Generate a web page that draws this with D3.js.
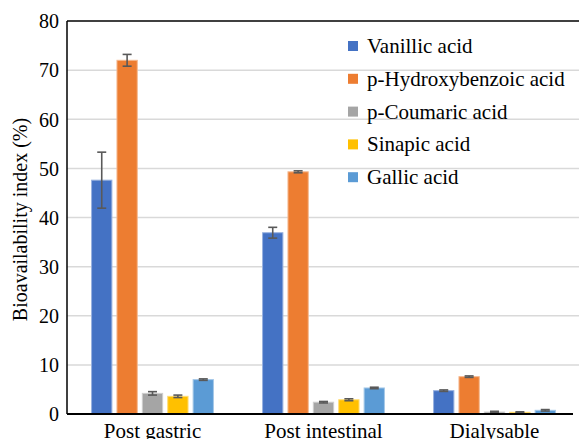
<!DOCTYPE html>
<html>
<head>
<meta charset="utf-8">
<script src="https://cdn.jsdelivr.net/npm/d3@7"></script>
<style>
  html, body { margin: 0; padding: 0; background: #fff; }
  svg { display: block; }
  svg text { font-family: "Liberation Serif", "Times New Roman", "DejaVu Serif", serif; fill: #000; }
</style>
</head>
<body>
<svg id="chart" width="579" height="439"></svg>
<script>
// Digestion stages (x groups)
const stages = ["Post gastric", "Post intestinal", "Dialysable"];
// Phenolic acids (series)
const compounds = ["Vanillic acid", "p-Hydroxybenzoic acid", "p-Coumaric acid", "Sinapic acid", "Gallic acid"];
const colors = ["#4472C4", "#ED7D31", "#A5A5A5", "#FFC000", "#5B9BD5"];
// Bioavailability index (%) per compound, one value per stage
const vanillic      = [47.6, 36.9, 4.75];
const hydroxybenz   = [72.0, 49.3, 7.6];
const coumaric      = [4.2, 2.4, 0.4];
const sinapic       = [3.6, 2.9, 0.35];
const gallic        = [7.0, 5.3, 0.75];
// Standard deviations
const vanillicSd    = [5.7, 1.1, 0.15];
const hydroxybenzSd = [1.2, 0.2, 0.15];
const coumaricSd    = [0.35, 0.15, 0.15];
const sinapicSd     = [0.25, 0.2, 0.1];
const gallicSd      = [0.15, 0.15, 0.15];
const yTicks = [0, 10, 20, 30, 40, 50, 60, 70, 80];

const values = [vanillic, hydroxybenz, coumaric, sinapic, gallic];
const sds = [vanillicSd, hydroxybenzSd, coumaricSd, sinapicSd, gallicSd];

const rows = [];
compounds.forEach((c, i) => {
  stages.forEach((s, j) => {
    rows.push({ compound: c, stage: s, value: values[i][j], sd: sds[i][j], color: colors[i] });
  });
});

const serif = '"Liberation Serif", "Times New Roman", "DejaVu Serif", serif';
const svg = d3.select("#chart");
const mLeft = 67, mRight = 580, mTop = 21, mBottom = 414;

const x0 = d3.scaleBand().domain(stages).range([mLeft, mRight]).paddingInner(0).paddingOuter(0);
const x1 = d3.scaleBand().domain(compounds).range([x0.bandwidth() / 2 - 66, x0.bandwidth() / 2 + 66]).padding(0.2);
const y = d3.scaleLinear().domain([0, 80]).range([mBottom, mTop]);

// Horizontal gridlines
svg.append("g")
  .selectAll("line")
  .data(yTicks.filter(t => t > 0 && t < 80))
  .join("line")
  .attr("x1", mLeft).attr("x2", 579)
  .attr("y1", d => y(d)).attr("y2", d => y(d))
  .attr("stroke", "#d9d9d9").attr("stroke-width", 1.5);

// Bars
svg.append("g")
  .selectAll("rect")
  .data(rows)
  .join("rect")
  .attr("x", d => x0(d.stage) + x1(d.compound))
  .attr("y", d => y(d.value))
  .attr("width", x1.bandwidth())
  .attr("height", d => y(0) - y(d.value))
  .attr("fill", d => d.color)
  .attr("stroke", d => d3.interpolateRgb(d.color, "#ffffff")(0.45))
  .attr("stroke-width", 1);

// Error bars
const eb = svg.append("g").attr("stroke", "#595959").attr("stroke-width", 1.6);
rows.forEach(d => {
  const cx = x0(d.stage) + x1(d.compound) + x1.bandwidth() / 2;
  const y1 = y(d.value + d.sd), y2 = y(d.value - d.sd);
  eb.append("line").attr("x1", cx).attr("x2", cx).attr("y1", y1).attr("y2", y2);
  eb.append("line").attr("x1", cx - 4.5).attr("x2", cx + 4.5).attr("y1", y1).attr("y2", y1);
  eb.append("line").attr("x1", cx - 4.5).attr("x2", cx + 4.5).attr("y1", y2).attr("y2", y2);
});

// Frame: left axis, top border, bottom axis
svg.append("line").attr("x1", mLeft).attr("x2", mLeft).attr("y1", mTop).attr("y2", mBottom)
  .attr("stroke", "#000").attr("stroke-width", 1.5);
svg.append("line").attr("x1", mLeft).attr("x2", 579).attr("y1", mTop).attr("y2", mTop)
  .attr("stroke", "#000").attr("stroke-width", 1.5);
svg.append("line").attr("x1", mLeft).attr("x2", 573).attr("y1", mBottom).attr("y2", mBottom)
  .attr("stroke", "#000").attr("stroke-width", 2);

// Y axis tick labels
const yAxis = d3.axisLeft(y).tickValues(yTicks).tickSize(0).tickPadding(8);
const gy = svg.append("g").attr("transform", `translate(${mLeft},0)`).call(yAxis);
gy.attr("font-family", serif).attr("font-size", 20);
gy.select(".domain").remove();
gy.selectAll("text").attr("fill", "#000").attr("dy", "0.34em");

// X axis labels
const xAxis = d3.axisBottom(x0).tickSize(0).tickPadding(9);
const gx = svg.append("g").attr("transform", `translate(0,${mBottom})`).call(xAxis);
gx.attr("font-family", serif).attr("font-size", 21);
gx.select(".domain").remove();
gx.selectAll("text").attr("fill", "#000");

// Y axis title
svg.append("text")
  .attr("transform", `translate(27,${(mTop + mBottom) / 2 + 2}) rotate(-90)`)
  .attr("text-anchor", "middle")
  .attr("font-family", serif)
  .attr("font-size", 20)
  .text("Bioavailability index (%)");

// Legend
const lg = svg.append("g").attr("transform", "translate(348,46)");
compounds.forEach((c, i) => {
  const g = lg.append("g").attr("transform", `translate(0,${i * 32.8})`);
  g.append("rect").attr("x", 0).attr("y", -5).attr("width", 10).attr("height", 10).attr("fill", colors[i]);
  g.append("text").attr("x", 19).attr("y", 7).attr("font-family", serif).attr("font-size", 21).text(c);
});
</script>
</body>
</html>
